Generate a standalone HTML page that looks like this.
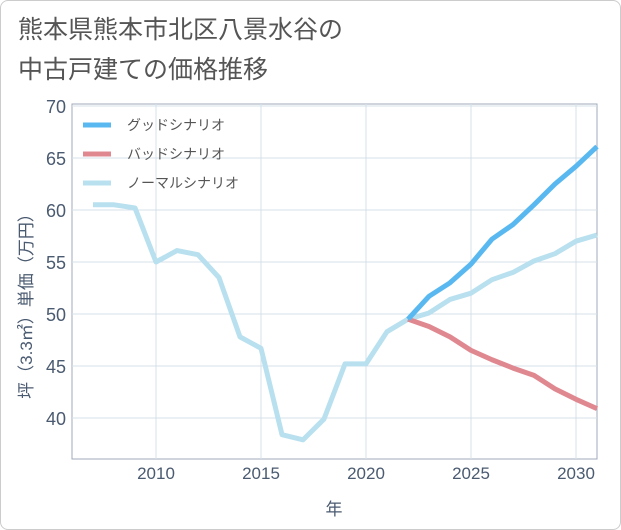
<!DOCTYPE html>
<html><head><meta charset="utf-8"><style>
body{margin:0;background:#fff;font-family:"Liberation Sans","Noto Sans CJK JP",sans-serif;}
#card{position:absolute;left:0;top:0;width:619px;height:528px;border:1px solid #ccc;border-radius:8px;background:#fff;}
#title{position:absolute;left:18px;top:10px;font-size:25px;line-height:40px;color:#555;}
</style></head><body>
<div id="card"></div>
<div id="title">熊本県熊本市北区八景水谷の<br>中古戸建ての価格推移</div>
<svg id="chart" width="621" height="530" style="position:absolute;left:0;top:0"></svg>
<script>
const years=[2007,2008,2009,2010,2011,2012,2013,2014,2015,2016,2017,2018,2019,2020,2021,2022,2023,2024,2025,2026,2027,2028,2029,2030,2031];
const normal=[60.5,60.5,60.2,55.0,56.1,55.7,53.5,47.8,46.7,38.4,37.9,39.9,45.2,45.2,48.3,49.5,50.1,51.4,52.0,53.3,54.0,55.1,55.8,57.0,57.6];
const futureYears=[2022,2023,2024,2025,2026,2027,2028,2029,2030,2031];
const good=[49.5,51.7,53.0,54.8,57.2,58.6,60.5,62.5,64.2,66.1];
const bad=[49.5,48.8,47.8,46.5,45.6,44.8,44.1,42.8,41.8,40.9];
const xTicks=[2010,2015,2020,2025,2030];
const yTicks=[40,45,50,55,60,65,70];
const L=72,R=597,T=104,B=459;
const x=v=>156+(v-2010)*21;
const y=v=>106+(70-v)*10.4;
const svg=document.getElementById('chart');
const NS='http://www.w3.org/2000/svg';
function mk(t,a){const e=document.createElementNS(NS,t);for(const k in a)e.setAttribute(k,a[k]);svg.appendChild(e);return e;}
const bg=mk('rect',{x:L,y:T,width:R-L,height:B-T,fill:'#fff',stroke:'#a0aab8','stroke-width':1});


xTicks.forEach(v=>{
 const g=mk('line',{x1:x(v),x2:x(v),y1:T,y2:B,stroke:'#d5e0ea','stroke-width':1});
 
 
 const t=mk('text',{x:x(v),y:B+20,'text-anchor':'middle','font-size':17,fill:'#4a5a70'});
 t.textContent=v;
 
 
});
yTicks.forEach(v=>{
 const g=mk('line',{x1:L,x2:R,y1:y(v),y2:y(v),stroke:'#d5e0ea','stroke-width':1});
 
 
 const t=mk('text',{x:L-6,y:y(v)+7,'text-anchor':'end','font-size':18,fill:'#4a5a70'});
 t.textContent=v;
 
 
});
function line(xs,ys,color,name){
 const p=mk('polyline',{points:xs.map((v,i)=>x(v)+','+y(ys[i])).join(' '),fill:'none',stroke:color,'stroke-width':5,'stroke-linejoin':'round'});
 
 
}
line(years,normal,'#b9e0ef','normal-scenario-line');
line(futureYears,bad,'#e08890','bad-scenario-line');
line(futureYears,good,'#5ab8f0','good-scenario-line');
const leg=[['グッドシナリオ','#5ab8f0'],['バッドシナリオ','#e08890'],['ノーマルシナリオ','#b9e0ef']];
leg.forEach((d,i)=>{
 const yy=125+i*29;
 const l=mk('line',{x1:83,x2:111,y1:yy,y2:yy,stroke:d[1],'stroke-width':5});
 
 
 const t=mk('text',{x:127,y:yy+5,'font-size':14,fill:'#555'});
 t.textContent=d[0];
 
 
});
const xt=mk('text',{x:334,y:515,'text-anchor':'middle','font-size':17,fill:'#4a5a70'});
xt.textContent='年';


const yt=mk('text',{x:0,y:0,'text-anchor':'middle','font-size':17,fill:'#4a5a70',transform:'translate(32,302) rotate(-90)'});
yt.textContent='坪（3.3㎡）単価（万円）';


</script>
</body></html>
